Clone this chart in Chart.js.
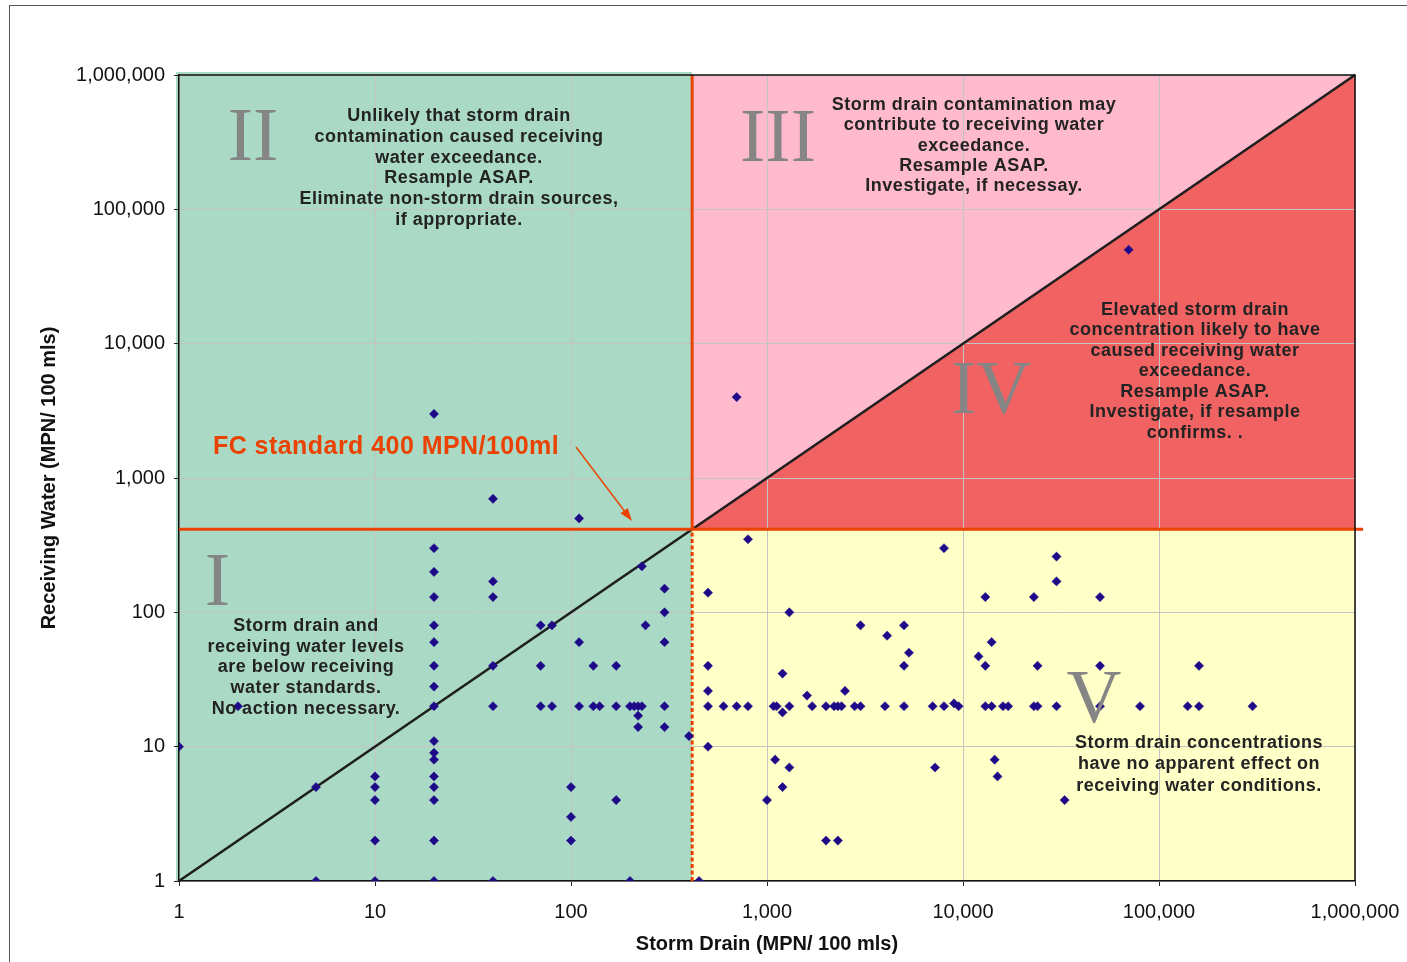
<!DOCTYPE html>
<html><head><meta charset="utf-8">
<style>html,body{margin:0;padding:0;background:#fff;overflow:hidden}canvas{display:block}</style>
<script src="https://cdn.jsdelivr.net/npm/chart.js@4.4.1/dist/chart.umd.min.js"></script>
</head><body>
<canvas id="c" width="1407" height="962"></canvas>
<script>
// ---- Data ----
const STORM_DRAIN = [
  1, 2, 5, 5, 10, 10, 10, 10, 10,
  20, 20, 20, 20, 20, 20, 20, 20, 20, 20, 20, 20, 20, 20, 20, 20, 20,
  40, 40, 40, 40, 40, 40,
  70, 80, 70, 70, 80,
  100, 100, 100,
  110, 110, 110,
  130, 130, 140,
  170, 170, 170,
  200, 210, 220, 230, 220, 220, 200,
  230, 240,
  300, 300, 300, 300, 300,
  400, 450,
  500, 500, 500, 500, 500,
  600, 700, 800, 800, 700,
  1000, 1080, 1120, 1100,
  1200, 1200, 1200,
  1300, 1300, 1300,
  1600, 1700, 2000, 2000,
  2200, 2300, 2400, 2300, 2500,
  2800, 3000, 3000, 4000, 4100,
  5000, 5000, 5000, 5300,
  7000, 7200, 8000, 8000, 9000, 9500,
  12000, 13000, 13000, 13000, 14000, 14000,
  14500, 15000, 16000, 17000,
  23000, 23000, 24000, 24000,
  30000, 30000, 30000, 33000,
  50000, 50000, 50000, 70000, 80000,
  140000, 160000, 160000, 300000
];
const RECEIVING_WATER = [
  10, 20, 5, 1, 6, 5, 4, 2, 1,
  3000, 300, 200, 130, 80, 60, 40, 28, 20, 11, 9, 8, 6, 5, 4, 2, 1,
  700, 170, 130, 40, 20, 1,
  80, 80, 40, 20, 20,
  5, 3, 2,
  500, 60, 20,
  40, 20, 20,
  40, 20, 4,
  20, 20, 20, 20, 17, 14, 1,
  220, 80,
  150, 100, 60, 20, 14,
  12, 1,
  140, 40, 26, 20, 10,
  20, 20, 20, 350, 4000,
  4, 20, 20, 8,
  35, 18, 5,
  100, 20, 7,
  24, 20, 20, 2,
  20, 20, 20, 2, 26,
  20, 20, 80, 20, 67,
  80, 40, 20, 50,
  20, 7, 300, 20, 21, 20,
  47, 130, 40, 20, 60, 20,
  8, 6, 20, 20,
  130, 20, 40, 20,
  260, 170, 20, 4,
  130, 40, 20, 50000, 20,
  20, 40, 20, 20
];
const TICK_VALUES = [1, 10, 100, 1000, 10000, 100000, 1000000];
const TICK_LABELS = ['1', '10', '100', '1,000', '10,000', '100,000', '1,000,000'];
const AXIS_MIN = 1;
const AXIS_MAX = 1000000;
const FC_STANDARD = 415;   // drawn position of the 400 MPN/100ml standard

const DIAGONAL = [{x: AXIS_MIN, y: AXIS_MIN}, {x: AXIS_MAX, y: AXIS_MAX}];
const FC_HORIZONTAL = [{x: AXIS_MIN, y: FC_STANDARD}, {x: 1100000, y: FC_STANDARD}];
const FC_VERTICAL_UPPER = [{x: FC_STANDARD, y: FC_STANDARD}, {x: FC_STANDARD, y: AXIS_MAX}];
const FC_VERTICAL_LOWER = [{x: FC_STANDARD, y: AXIS_MIN}, {x: FC_STANDARD, y: FC_STANDARD}];

const NOTES = [
  {cx: 459, y0: 116, dy: 20.8, lines: ['Unlikely that storm drain', 'contamination caused receiving', 'water exceedance.', 'Resample ASAP.', 'Eliminate non-storm drain sources,', 'if appropriate.']},
  {cx: 974, y0: 105, dy: 20.3, lines: ['Storm drain contamination may', 'contribute to receiving water', 'exceedance.', 'Resample ASAP.', 'Investigate, if necessay.']},
  {cx: 1195, y0: 310, dy: 20.5, lines: ['Elevated storm drain', 'concentration likely to have', 'caused receiving water', 'exceedance.', 'Resample ASAP.', 'Investigate, if resample', 'confirms. .']},
  {cx: 306, y0: 626, dy: 20.7, lines: ['Storm drain and', 'receiving water levels', 'are below receiving', 'water standards.', 'No action necessary.']},
  {cx: 1199, y0: 743, dy: 21.3, lines: ['Storm drain concentrations', 'have no apparent effect on', 'receiving water conditions.']}
];
const NUMERALS = [
  {t: 'II', cx: 253, base: 160},
  {t: 'III', cx: 778, base: 161},
  {t: 'I', cx: 217.5, base: 605},
  {t: 'IV', cx: 991, base: 413},
  {t: 'V', cx: 1094, base: 722}
];

const RED = '#EA4200';

const decorPlugin = {
  id: 'decor',
  beforeDraw(chart) {
    const {ctx, chartArea: a, scales: {x, y}} = chart;
    ctx.save();
    ctx.fillStyle = '#fff';
    ctx.fillRect(0, 0, chart.width, chart.height);
    // outer frame
    ctx.strokeStyle = '#555';
    ctx.lineWidth = 1;
    ctx.strokeRect(9.5, 5.5, chart.width + 20, chart.height + 20);
    const xf = x.getPixelForValue(FC_STANDARD);
    const yf = y.getPixelForValue(FC_STANDARD);
    const xr = x.getPixelForValue(AXIS_MAX), yt = y.getPixelForValue(AXIS_MAX);
    // quadrants I + II
    ctx.fillStyle = '#AADAC6';
    ctx.fillRect(a.left - 3, a.top - 3, xf - a.left + 3, a.bottom - a.top + 3);
    // quadrant V
    ctx.fillStyle = '#FFFFC8';
    ctx.fillRect(xf, yf, xr - xf, a.bottom - yf);
    // quadrant III
    ctx.fillStyle = '#FFBACD';
    ctx.beginPath(); ctx.moveTo(xf, yf); ctx.lineTo(xf, yt); ctx.lineTo(xr, yt); ctx.closePath(); ctx.fill();
    // quadrant IV
    ctx.fillStyle = '#F16262';
    ctx.beginPath(); ctx.moveTo(xf, yf); ctx.lineTo(xr, yt); ctx.lineTo(xr, yf); ctx.closePath(); ctx.fill();
    ctx.restore();
  },
  afterDatasetsDraw(chart) {
    const {ctx, chartArea: a} = chart;
    ctx.save();
    // plot border top / right
    ctx.strokeStyle = '#111';
    ctx.lineWidth = 1.5;
    ctx.beginPath();
    ctx.moveTo(a.left, a.top); ctx.lineTo(a.right, a.top); ctx.lineTo(a.right, a.bottom);
    ctx.stroke();
    // roman numerals
    ctx.fillStyle = '#858585';
    ctx.font = '76px "Liberation Serif", "DejaVu Serif", serif';
    ctx.textAlign = 'center';
    ctx.textBaseline = 'alphabetic';
    NUMERALS.forEach(n => ctx.fillText(n.t, n.cx, n.base));
    // notes
    ctx.fillStyle = '#232323';
    ctx.font = 'bold 18px "Liberation Sans", Arial, sans-serif';
    ctx.textBaseline = 'middle';
    if ('letterSpacing' in ctx) ctx.letterSpacing = '0.5px';
    NOTES.forEach(n => n.lines.forEach((l, i) => ctx.fillText(l, n.cx, n.y0 + i * n.dy)));
    // FC label
    ctx.fillStyle = RED;
    ctx.font = 'bold 25px "Liberation Sans", Arial, sans-serif';
    ctx.textAlign = 'left';
    if ('letterSpacing' in ctx) ctx.letterSpacing = '0.45px';
    ctx.fillText('FC standard 400 MPN/100ml', 213, 447);
    if ('letterSpacing' in ctx) ctx.letterSpacing = '0px';
    // arrow
    const x0 = 576, y0 = 447, x1 = 632, y1 = 521;
    ctx.strokeStyle = RED; ctx.lineWidth = 1.4;
    const ang = Math.atan2(y1 - y0, x1 - x0);
    ctx.beginPath(); ctx.moveTo(x0, y0);
    ctx.lineTo(x1 - 10 * Math.cos(ang), y1 - 10 * Math.sin(ang)); ctx.stroke();
    ctx.beginPath();
    ctx.moveTo(x1, y1);
    ctx.lineTo(x1 - 13 * Math.cos(ang) + 4.5 * Math.sin(ang), y1 - 13 * Math.sin(ang) - 4.5 * Math.cos(ang));
    ctx.lineTo(x1 - 13 * Math.cos(ang) - 4.5 * Math.sin(ang), y1 - 13 * Math.sin(ang) + 4.5 * Math.cos(ang));
    ctx.closePath(); ctx.fill();
    ctx.restore();
  }
};

const samples = STORM_DRAIN.map((v, i) => ({x: v, y: RECEIVING_WATER[i]}));

new Chart(document.getElementById('c'), {
  type: 'scatter',
  data: {
    datasets: [
      {label: 'Samples', data: samples, pointStyle: 'rectRot', pointRadius: 4.6, pointHoverRadius: 4.6,
       backgroundColor: '#1E0A88', borderColor: '#1E0A88', borderWidth: 0.5, order: 0},
      {label: 'Diagonal', data: DIAGONAL, showLine: true, pointRadius: 0, borderColor: '#1f1f1f', borderWidth: 2.6,
       clip: 6, order: 3},
      {label: 'FC horizontal', data: FC_HORIZONTAL, showLine: true, pointRadius: 0, borderColor: RED, borderWidth: 3,
       clip: {left: 1, top: 0, right: 10, bottom: 0}, order: 2},
      {label: 'FC vertical', data: FC_VERTICAL_UPPER, showLine: true, pointRadius: 0, borderColor: RED, borderWidth: 3, order: 2},
      {label: 'FC vertical dotted', data: FC_VERTICAL_LOWER, showLine: true, pointRadius: 0, borderColor: RED, borderWidth: 3,
       borderDash: [4, 2.5], order: 2}
    ]
  },
  options: {
    responsive: false,
    animation: false,
    events: [],
    layout: {padding: {left: 0, top: 75, right: 52, bottom: 0}},
    plugins: {legend: {display: false}, tooltip: {enabled: false}},
    scales: {
      x: {
        type: 'logarithmic', min: AXIS_MIN, max: AXIS_MAX,
        afterFit: s => { s.height = 81; s.paddingLeft = 0; s.paddingRight = 0; },
        afterBuildTicks: s => { s.ticks = TICK_VALUES.map(v => ({value: v})); },
        ticks: {callback: (v, i) => TICK_LABELS[i], color: '#111', padding: 14, maxRotation: 0, autoSkip: false,
                font: {family: '"Liberation Sans", Arial, sans-serif', size: 20}},
        grid: {color: '#C4C4C4', lineWidth: 1, tickLength: 5, tickColor: '#222'},
        border: {display: true, color: '#111', width: 1.5},
        title: {display: true, text: 'Storm Drain (MPN/ 100 mls)', color: '#111', padding: {top: 0, bottom: 6},
                font: {family: '"Liberation Sans", Arial, sans-serif', size: 20, weight: 'bold'}}
      },
      y: {
        type: 'logarithmic', min: AXIS_MIN, max: AXIS_MAX,
        afterFit: s => { s.width = 179; s.paddingTop = 0; s.paddingBottom = 0; },
        afterBuildTicks: s => { s.ticks = TICK_VALUES.map(v => ({value: v})); },
        ticks: {callback: (v, i) => TICK_LABELS[i], color: '#111', padding: 9, autoSkip: false,
                font: {family: '"Liberation Sans", Arial, sans-serif', size: 20}},
        grid: {color: '#C4C4C4', lineWidth: 1, tickLength: 5, tickColor: '#222'},
        border: {display: true, color: '#111', width: 1.5},
        title: {display: true, text: 'Receiving Water (MPN/ 100 mls)', color: '#111', padding: {top: 37, bottom: 0},
                font: {family: '"Liberation Sans", Arial, sans-serif', size: 20, weight: 'bold'}}
      }
    }
  },
  plugins: [decorPlugin]
});
</script>
</body></html>
